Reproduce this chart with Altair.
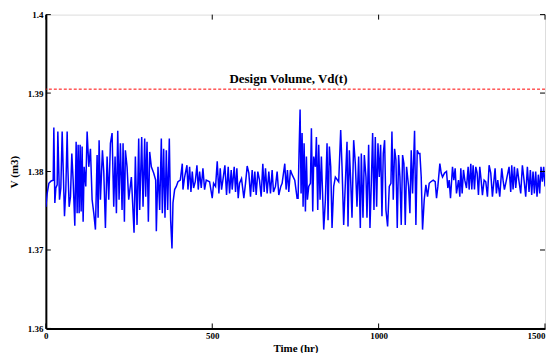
import altair as alt
import pandas as pd

# --- data (time in hr, volume in m3) ---
t_a = [0, 4, 9, 16, 22, 24, 27, 30, 34, 36, 41, 45, 49, 56, 60, 64, 66, 70, 74, 78, 82, 87, 91, 94, 97, 100,
       103, 106, 109, 112, 115, 120, 124, 129, 134, 139, 144, 149, 154, 157, 160, 164, 170, 174, 179, 184,
       189, 194, 199, 204, 208, 212, 216, 220, 224, 229, 232, 236, 239, 244, 249]
v_a = [1.3755, 1.3772, 1.3785, 1.3788, 1.3789, 1.3856, 1.3760, 1.3779, 1.3783, 1.3851, 1.3764, 1.3779,
       1.3851, 1.3743, 1.3777, 1.3851, 1.3806, 1.3755, 1.3768, 1.3823, 1.3789, 1.3731, 1.3838, 1.3747,
       1.3834, 1.3747, 1.3834, 1.3749, 1.3832, 1.3736, 1.3806, 1.3781, 1.3851, 1.3806, 1.3829, 1.3764,
       1.3747, 1.3726, 1.3821, 1.3741, 1.3840, 1.3764, 1.3827, 1.3800, 1.3728, 1.3819, 1.3764, 1.3836,
       1.3849, 1.3755, 1.3819, 1.3747, 1.3852, 1.3764, 1.3836, 1.3751, 1.3836, 1.3736, 1.3827, 1.3806,
       1.3764]

t_b = [257, 265, 269, 274, 279, 282, 288, 292, 297, 300, 304, 308, 312, 317, 324, 330, 332, 337, 342, 347,
       350, 354, 358, 362, 366, 371, 375, 379, 382, 387, 392, 397, 404, 410, 412, 417, 424, 427, 432, 436,
       440, 444, 449, 454, 458, 462, 467, 472, 477, 482, 492, 500, 504, 510]
v_b = [1.3793, 1.3722, 1.3819, 1.3732, 1.3842, 1.3751, 1.3844, 1.3755, 1.3842, 1.3768, 1.3838, 1.3736,
       1.3825, 1.3806, 1.3798, 1.3789, 1.3724, 1.3806, 1.3751, 1.3842, 1.3747, 1.3829, 1.3741, 1.3827,
       1.3751, 1.3842, 1.3738, 1.3702, 1.3760, 1.3777, 1.3781, 1.3787, 1.3789, 1.3810, 1.3777, 1.3793,
       1.3808, 1.3777, 1.3806, 1.3774, 1.3800, 1.3779, 1.3787, 1.3808, 1.3777, 1.3800, 1.3779, 1.3804,
       1.3777, 1.3789, 1.3787, 1.3766, 1.3785, 1.3781]

t_c = [515, 520, 524, 528, 532, 538, 543, 548, 552, 557, 560, 566, 570, 574, 578, 582, 588, 595, 600, 605,
       610, 615, 620, 624, 628, 632, 637, 642, 647, 652, 656, 660, 665, 670, 675, 680, 684, 690, 695, 700,
       706, 710, 718, 722, 726, 730, 735, 740, 748, 755]
v_c = [1.3813, 1.3772, 1.3804, 1.3777, 1.3789, 1.3808, 1.3770, 1.3806, 1.3772, 1.3802, 1.3777, 1.3806,
       1.3774, 1.3804, 1.3766, 1.3785, 1.3791, 1.3766, 1.3785, 1.3807, 1.3798, 1.3768, 1.3802, 1.3774,
       1.3800, 1.3770, 1.3800, 1.3789, 1.3768, 1.3810, 1.3774, 1.3804, 1.3772, 1.3800, 1.3772, 1.3802,
       1.3774, 1.3781, 1.3800, 1.3770, 1.3781, 1.3785, 1.3810, 1.3777, 1.3802, 1.3774, 1.3802, 1.3796,
       1.3789, 1.3766]

t_d = [758, 761, 764, 767, 770, 773, 776, 780, 783, 786, 790, 795, 798, 802, 805, 810, 813, 817, 820, 824,
       828, 835, 840, 845, 848, 852, 856, 860, 865, 870, 880, 886, 890, 895, 900, 905, 908, 912, 916, 920,
       925, 930, 935, 940, 945, 948, 953, 957, 962, 965, 970, 974, 978, 982, 986, 990, 994, 998, 1002]
v_d = [1.3766, 1.3827, 1.3879, 1.3772, 1.3849, 1.3755, 1.3836, 1.3749, 1.3819, 1.3764, 1.3781, 1.3785,
       1.3855, 1.3749, 1.3819, 1.3806, 1.3844, 1.3751, 1.3834, 1.3764, 1.3819, 1.3726, 1.3764, 1.3836,
       1.3738, 1.3832, 1.3806, 1.3728, 1.3781, 1.3793, 1.3787, 1.3853, 1.3806, 1.3732, 1.3785, 1.3838,
       1.3730, 1.3827, 1.3789, 1.3741, 1.3840, 1.3810, 1.3755, 1.3819, 1.3728, 1.3823, 1.3741, 1.3821,
       1.3793, 1.3741, 1.3834, 1.3728, 1.3785, 1.3849, 1.3751, 1.3844, 1.3755, 1.3836, 1.3793]

t_e = [1006, 1010, 1014, 1018, 1022, 1027, 1032, 1037, 1040, 1044, 1048, 1052, 1056, 1060, 1064, 1068,
       1072, 1076, 1080, 1084, 1090, 1094, 1098, 1102, 1108, 1112, 1116, 1120, 1124, 1128, 1132, 1137,
       1142, 1147, 1152, 1157, 1164, 1170, 1174, 1178, 1184, 1188, 1192, 1198, 1204, 1208, 1212, 1216,
       1222, 1226, 1230, 1234, 1240, 1244]
v_e = [1.3834, 1.3743, 1.3823, 1.3840, 1.3751, 1.3730, 1.3781, 1.3785, 1.3851, 1.3764, 1.3829, 1.3815,
       1.3728, 1.3821, 1.3793, 1.3732, 1.3821, 1.3810, 1.3732, 1.3806, 1.3781, 1.3747, 1.3827, 1.3772,
       1.3852, 1.3732, 1.3827, 1.3823, 1.3823, 1.3793, 1.3726, 1.3764, 1.3783, 1.3768, 1.3785, 1.3787,
       1.3789, 1.3787, 1.3766, 1.3781, 1.3810, 1.3798, 1.3793, 1.3798, 1.3800, 1.3779, 1.3789, 1.3766,
       1.3806, 1.3789, 1.3804, 1.3772, 1.3789, 1.3768]

t_f = [1247, 1251, 1255, 1259, 1264, 1269, 1272, 1277, 1280, 1284, 1288, 1292, 1296, 1300, 1304, 1308,
       1312, 1317, 1322, 1327, 1332, 1337, 1342, 1350, 1354, 1358, 1364, 1370, 1374, 1378, 1382, 1392,
       1397, 1400, 1404, 1408, 1412, 1417, 1422, 1427, 1432, 1437, 1442, 1447, 1452, 1456, 1460, 1464,
       1468, 1472, 1476, 1480, 1484, 1488, 1492, 1496, 1500]
v_f = [1.3804, 1.3772, 1.3802, 1.3789, 1.3779, 1.3806, 1.3777, 1.3810, 1.3777, 1.3808, 1.3777, 1.3806,
       1.3798, 1.3770, 1.3806, 1.3789, 1.3770, 1.3789, 1.3787, 1.3768, 1.3808, 1.3798, 1.3768, 1.3804,
       1.3772, 1.3789, 1.3768, 1.3804, 1.3789, 1.3777, 1.3785, 1.3806, 1.3774, 1.3808, 1.3777, 1.3806,
       1.3779, 1.3804, 1.3787, 1.3772, 1.3808, 1.3789, 1.3768, 1.3806, 1.3774, 1.3802, 1.3770, 1.3800,
       1.3772, 1.3800, 1.3768, 1.3796, 1.3772, 1.3806, 1.3787, 1.3806, 1.3781]

design_volume = 1.3905
design_label = "Design Volume, Vd(t)"
design_label_time = 729

x_ticks = [0, 500, 1000, 1500]
y_ticks = [1.36, 1.37, 1.38, 1.39, 1.40]

times = t_a + t_b + t_c + t_d + t_e + t_f
vols = v_a + v_b + v_c + v_d + v_e + v_f
df = pd.DataFrame({"t": times, "v": vols})

W, H = 501, 315
FONT = "Liberation Serif"

xs = alt.Scale(domain=[0, 1500], nice=False, zero=False)
ys = alt.Scale(domain=[1.36, 1.40], nice=False, zero=False)

line = alt.Chart(df).mark_line(color="#0000ff", strokeWidth=1.5, clip=True).encode(
    x=alt.X("t:Q", scale=xs, title="Time (hr)",
            axis=alt.Axis(values=x_ticks, format="d", grid=False, ticks=False, tickSize=0,
                          labelFont=FONT, labelFontWeight="bold", labelFontSize=9, labelColor="black",
                          labelPadding=3, titleFont=FONT, titleFontWeight="bold", titleFontSize=11,
                          titleColor="black", titlePadding=2, domainColor="black", domainWidth=2,
                          labelFlush=False,
                          labelOffset={"condition": {"test": "datum.value == 1500", "value": -9},
                                       "value": 0})),
    y=alt.Y("v:Q", scale=ys, title="V (m3)",
            axis=alt.Axis(values=y_ticks, format=".2~f", grid=False, ticks=False, tickSize=0,
                          labelFont=FONT, labelFontWeight="bold", labelFontSize=9, labelColor="black",
                          labelPadding=3, titleFont=FONT, titleFontWeight="bold", titleFontSize=11,
                          titleColor="black", titlePadding=8, domainColor="black", domainWidth=2,
                          labelFlush=False)),
)

dv = pd.DataFrame({"v": [design_volume], "t": [design_label_time], "label": [design_label]})
design_rule = alt.Chart(dv).mark_rule(color="#ff0000", strokeWidth=1, strokeDash=[3, 2]).encode(
    y=alt.Y("v:Q", scale=ys)
)
design_text = alt.Chart(dv).mark_text(font=FONT, fontWeight="bold", fontSize=13, color="black",
                                      baseline="bottom", dy=-3).encode(
    x=alt.X("t:Q", scale=xs), y=alt.Y("v:Q", scale=ys), text="label:N"
)

yt = pd.DataFrame({"v": y_ticks})
xt = pd.DataFrame({"t": x_ticks})
ytick_l = alt.Chart(yt).mark_rule(color="black", strokeWidth=1).encode(
    y=alt.Y("v:Q", scale=ys), x=alt.value(0), x2=alt.value(5))
ytick_r = alt.Chart(yt).mark_rule(color="black", strokeWidth=1).encode(
    y=alt.Y("v:Q", scale=ys), x=alt.value(W - 5), x2=alt.value(W))
xtick_b = alt.Chart(xt).mark_rule(color="black", strokeWidth=1).encode(
    x=alt.X("t:Q", scale=xs), y=alt.value(H - 5), y2=alt.value(H))
xtick_t = alt.Chart(xt).mark_rule(color="black", strokeWidth=1).encode(
    x=alt.X("t:Q", scale=xs), y=alt.value(0), y2=alt.value(5))

chart = alt.layer(line, design_rule, design_text, ytick_l, ytick_r, xtick_b, xtick_t).properties(
    width=W, height=H,
    autosize=alt.AutoSizeParams(type="none"),
    padding={"left": 38, "top": 6, "right": 2, "bottom": 24},
).configure_view(stroke="black", strokeWidth=1.5).configure(background="white")

chart.save("out.html", embed_options={"renderer": "svg", "actions": False})
